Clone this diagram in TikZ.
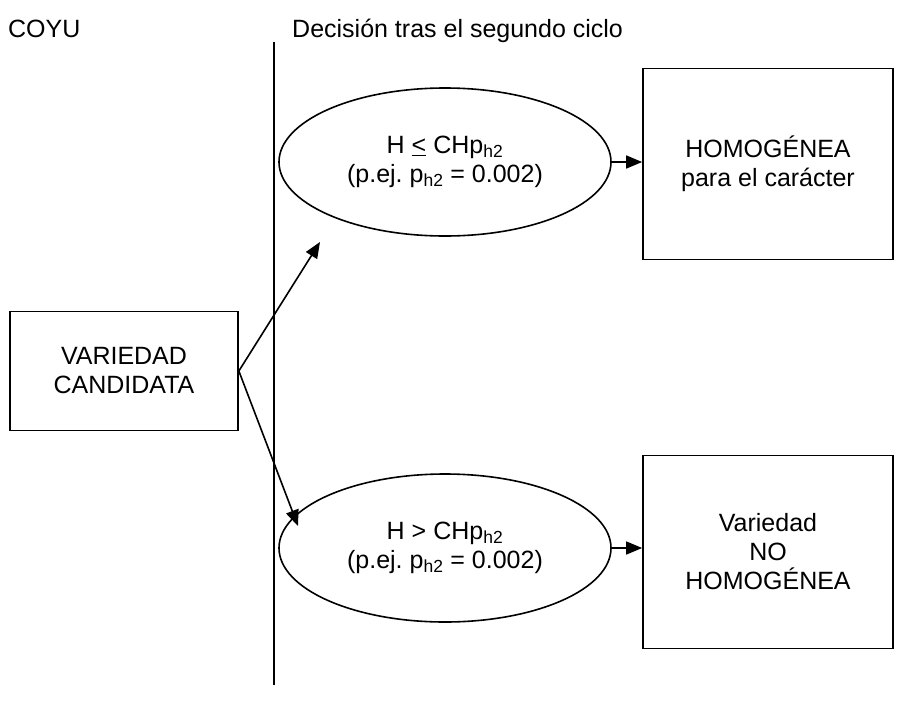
\documentclass[tikz,border=0pt]{standalone}
\usepackage{fontspec}
\setmainfont{Liberation Sans}
\usetikzlibrary{shapes.geometric,arrows.meta}
\frenchspacing
\begin{document}
\begin{tikzpicture}[x=1pt,y=-1pt,
  every node/.style={font=\fontsize{25}{29}\selectfont, align=center},
  lbl/.style={inner sep=0pt},
  box/.style={draw, line width=1.7pt, rectangle, inner sep=0pt},
  oval/.style={draw, line width=1.6pt, ellipse, inner sep=0pt},
  conn/.style={line width=1.6pt, -{Triangle[length=16pt,width=13pt]}},
  ]
\useasboundingbox (0,0) rectangle (911,713);
\node[lbl, anchor=base west] (coyu) at (8,37) {COYU};
\node[lbl, anchor=base west] (dec) at (292,37) {Decisión tras el segundo ciclo};
\coordinate (ltop) at (274,42);
\coordinate (lbot) at (274,685);
\draw[line width=2pt] (ltop) -- (lbot);
\node[box, minimum width=228pt, minimum height=119pt] (cand) at (124,371) {VARIEDAD\\CANDIDATA};
\node[oval, minimum width=332pt, minimum height=148pt] (e1) at (445,162) {H \underline{<} CHp\textsubscript{h2}\\(p.ej.\ p\textsubscript{h2} = 0.002)};
\node[oval, minimum width=332pt, minimum height=148pt] (e2) at (445,548) {H > CHp\textsubscript{h2}\\(p.ej.\ p\textsubscript{h2} = 0.002)};
\node[box, minimum width=250pt, minimum height=191pt] (b1) at (768,164) {HOMOGÉNEA\\para el carácter};
\node[box, minimum width=250pt, minimum height=193pt] (b2) at (768,552) {Variedad\\NO\\HOMOGÉNEA};
\coordinate (t1) at (320,242);
\coordinate (t2) at (298,526);
\draw[conn] (cand.east) -- (t1);
\draw[conn] (cand.east) -- (t2);
\draw[conn] (e1.east) -- (b1.west |- e1.east);
\draw[conn] (e2.east) -- (b2.west |- e2.east);
\end{tikzpicture}
\end{document}
